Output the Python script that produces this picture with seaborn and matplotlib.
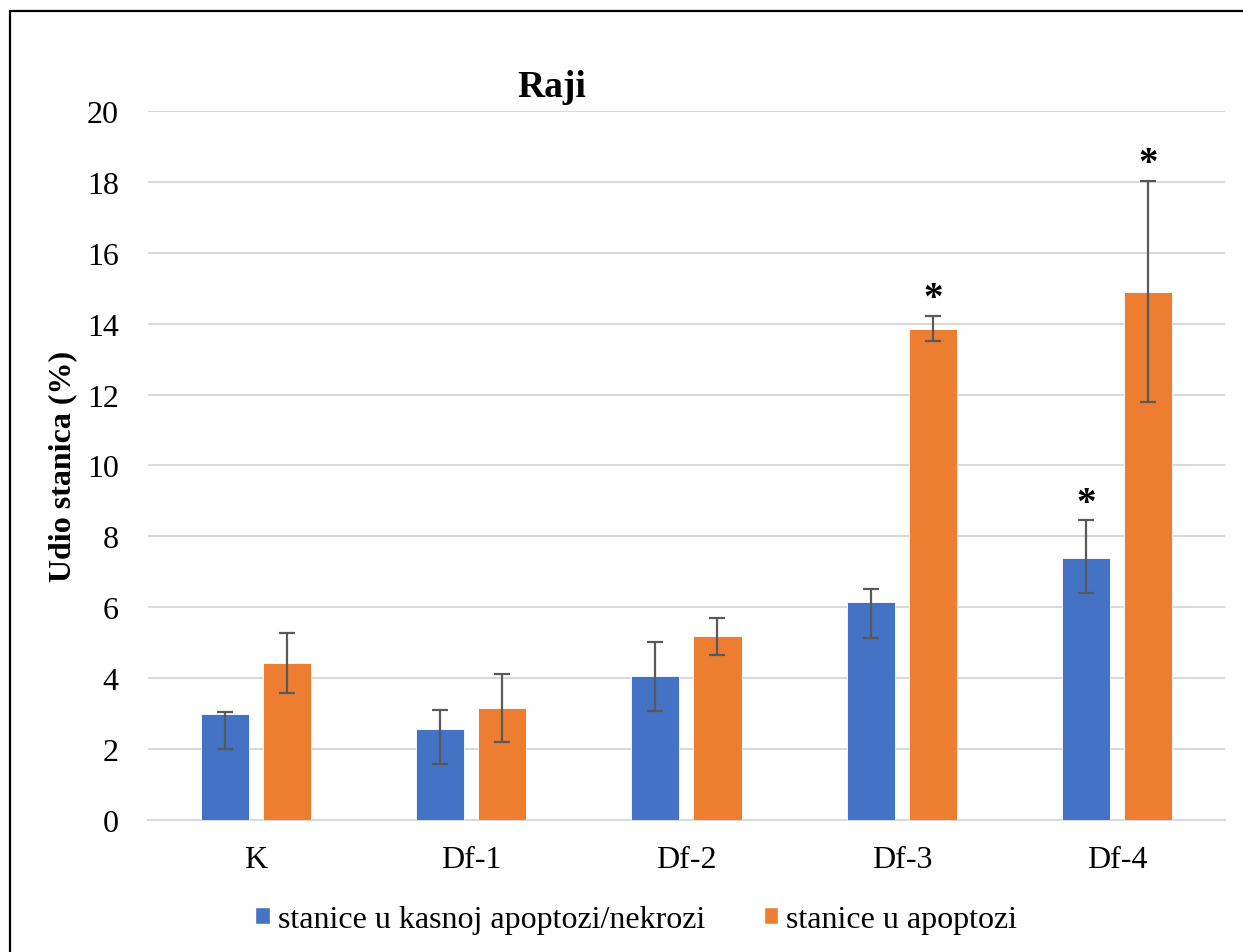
# raji_apoptosis.py
# Raji cells - share of apoptotic / necrotic cells per treatment

import matplotlib
matplotlib.use('Agg')
import matplotlib.pyplot as plt
from matplotlib.lines import Line2D
from matplotlib.patches import Patch
import seaborn as sns
import pandas as pd
import numpy as np

# data
groups = ['K', 'Df-1', 'Df-2', 'Df-3', 'Df-4']
series = ['stanice u kasnoj apoptozi/nekrozi', 'stanice u apoptozi']
late_necro = [3.0, 2.57, 4.07, 6.14, 7.40]
apoptosis = [4.43, 3.16, 5.18, 13.85, 14.90]
# asymmetric error bars: (lower, upper) limits
late_err_low = [2.0, 1.58, 3.07, 5.14, 6.40]
late_err_high = [3.05, 3.10, 5.02, 6.53, 8.45]
apo_err_low = [3.58, 2.20, 4.65, 13.51, 11.79]
apo_err_high = [5.27, 4.12, 5.69, 14.21, 18.02]
# significance markers: (series index, group index)
stars = [(1, 3), (1, 4), (0, 4)]

colors = ['#4472C4', '#ED7D31']

df = pd.DataFrame({
    'group': groups * 2,
    'series': [series[0]] * 5 + [series[1]] * 5,
    'value': late_necro + apoptosis,
})

sns.set_style('white')
plt.rcParams['font.family'] = ['Liberation Serif', 'DejaVu Serif']
plt.rcParams['text.color'] = 'black'
plt.rcParams['axes.labelcolor'] = 'black'
plt.rcParams['xtick.color'] = 'black'
plt.rcParams['ytick.color'] = 'black'

fig = plt.figure(figsize=(12.43, 9.53), dpi=100)
ax = fig.add_axes([0.119, 0.1385, 0.8665, 0.744])

sns.barplot(data=df, x='group', y='value', hue='series', order=groups,
            hue_order=series, palette=colors, saturation=1, width=0.576,
            gap=0.225, edgecolor='#FFFFFF', linewidth=0.6, errorbar=None,
            legend=False, ax=ax, zorder=3)

# error bars on bar centres
lows = [late_err_low, apo_err_low]
highs = [late_err_high, apo_err_high]
vals = [late_necro, apoptosis]
bar_sets = list(ax.containers)[:2]
for s, cont in enumerate(bar_sets):
    xs = [b.get_x() + b.get_width() / 2 for b in cont]
    v = np.array(vals[s])
    lo = v - np.array(lows[s])
    hi = np.array(highs[s]) - v
    ax.errorbar(xs, v, yerr=[lo, hi], fmt='none', ecolor='#595959',
                elinewidth=1.6, capsize=6, capthick=1.6, zorder=4)
    for si, gi in stars:
        if si == s:
            ax.text(xs[gi], highs[s][gi] + 0.22, '*', ha='center',
                    va='baseline', fontsize=28, fontweight='bold')

ax.set_ylim(0, 20)
ax.set_xlim(-0.5, 4.5)
ax.set_yticks(range(0, 21, 2))
ax.yaxis.grid(True, color='#D9D9D9', linewidth=1.5, zorder=0)
ax.set_axisbelow(True)
for side in ['left', 'right', 'top']:
    ax.spines[side].set_visible(False)
ax.spines['bottom'].set_color('#D9D9D9')
ax.spines['bottom'].set_linewidth(1.5)
ax.tick_params(axis='both', length=0, labelsize=23)
ax.tick_params(axis='y', pad=21)
ax.tick_params(axis='x', pad=18)
ax.set_xlabel('')
ax.set_ylabel('Udio stanica (%)', fontsize=23, fontweight='bold', labelpad=7)

fig.text(0.444, 0.908, 'Raji', fontsize=27, fontweight='bold',
         ha='center', va='center')

handles = [Patch(facecolor=c, label=l) for c, l in zip(colors, series)]
fig.legend(handles=handles, loc='center', bbox_to_anchor=(0.512, 0.034),
           ncol=2, frameon=False, fontsize=23, handlelength=0.45,
           handleheight=0.45, handletextpad=0.25, columnspacing=1.85)

# frame lines of the original (top and left only)
fig.add_artist(Line2D([0.008, 1.0], [0.9874, 0.9874], color='black', lw=1.6,
                      transform=fig.transFigure))
fig.add_artist(Line2D([0.008, 0.008], [0.0, 0.9874], color='black', lw=1.6,
                      transform=fig.transFigure))

plt.savefig('out.png', dpi=100)
